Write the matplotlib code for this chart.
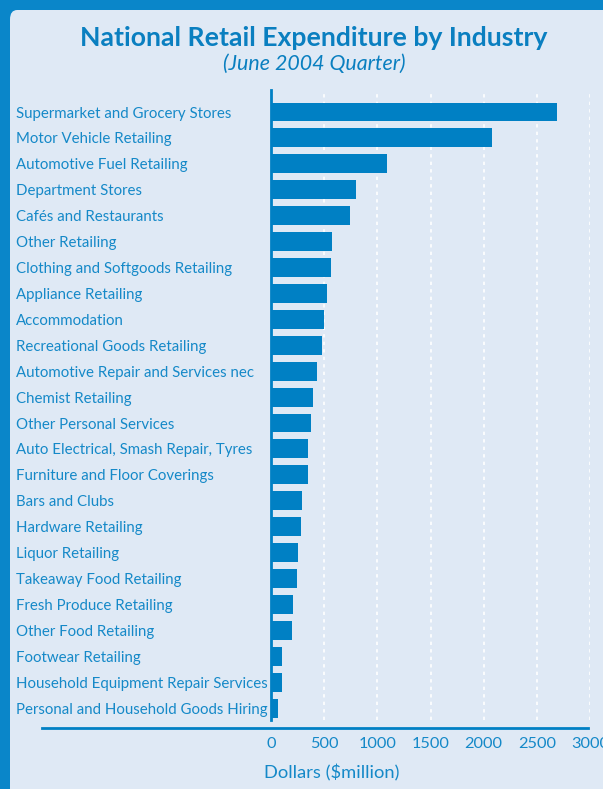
import matplotlib
matplotlib.use("Agg")
import matplotlib.pyplot as plt
from matplotlib.patches import FancyBboxPatch
from matplotlib.lines import Line2D

categories = [
    "Supermarket and Grocery Stores",
    "Motor Vehicle Retailing",
    "Automotive Fuel Retailing",
    "Department Stores",
    "Cafés and Restaurants",
    "Other Retailing",
    "Clothing and Softgoods Retailing",
    "Appliance Retailing",
    "Accommodation",
    "Recreational Goods Retailing",
    "Automotive Repair and Services nec",
    "Chemist Retailing",
    "Other Personal Services",
    "Auto Electrical, Smash Repair, Tyres",
    "Furniture and Floor Coverings",
    "Bars and Clubs",
    "Hardware Retailing",
    "Liquor Retailing",
    "Takeaway Food Retailing",
    "Fresh Produce Retailing",
    "Other Food Retailing",
    "Footwear Retailing",
    "Household Equipment Repair Services",
    "Personal and Household Goods Hiring",
]
values = [2690, 2080, 1090, 800, 745, 575, 565, 527, 500, 480, 433, 395,
          376, 348, 348, 292, 282, 254, 245, 207, 198, 103, 103, 66]
xticks = [0, 500, 1000, 1500, 2000, 2500, 3000]

W, H = 603, 789
BLUE = "#0A86C9"
BAR = "#0080C4"
TXT = "#1589C8"
BG = "#DFE9F5"
FONT = ["Lato", "DejaVu Sans"]
plt.rcParams["font.family"] = FONT

fig = plt.figure(figsize=(W / 100, H / 100), dpi=100)
fig.patch.set_facecolor(BLUE)
panel = FancyBboxPatch((10 / W, -20 / H), (W + 20) / W, (H + 20 - 10) / H,
                       boxstyle="round,pad=0,rounding_size=0.012",
                       transform=fig.transFigure, facecolor=BG, edgecolor="none",
                       zorder=-10)
fig.patches.append(panel)

ax_l, ax_r = 271 / W, 590 / W
ax_t, ax_b = 90, 720
ax = fig.add_axes([ax_l, 1 - ax_b / H, ax_r - ax_l, (ax_b - ax_t) / H])
ax.set_facecolor("none")

y = list(range(len(categories)))
ax.barh(y, values, height=0.73, color=BAR, zorder=3)
ax.set_xlim(0, 3000)
ax.set_ylim(len(categories) - 1 + 0.46, -0.85)

for s in ["top", "right", "bottom"]:
    ax.spines[s].set_visible(False)
ax.spines["left"].set_color(BAR)
ax.spines["left"].set_linewidth(2)
ax.spines["left"].set_zorder(4)

ax.set_xticks(xticks)
ax.set_xticklabels([str(t) for t in xticks])
ax.tick_params(axis="x", length=0, pad=12, labelsize=11.8,
               labelcolor=TXT)
ax.set_yticks(y)
ax.set_yticklabels(categories)
ax.tick_params(axis="y", length=0, pad=(271 - 16) * 0.72, labelsize=10.8,
               labelcolor=TXT)
for lab in ax.get_yticklabels():
    lab.set_horizontalalignment("left")

for t in xticks[1:]:
    ax.axvline(t, color="white", linestyle=(0, (2, 2.5)), linewidth=1.2, zorder=1)

fig.add_artist(Line2D([42 / W, 588 / W], [1 - 728 / H, 1 - 728 / H],
                      transform=fig.transFigure, color=BAR, linewidth=2))

fig.text(314 / W, 1 - 38 / H, "National Retail Expenditure by Industry",
         ha="center", va="center", fontsize=19.2, fontweight="bold", color="#0A7FC0")
fig.text(314 / W, 1 - 64 / H, "(June 2004 Quarter)", ha="center", va="center",
         fontsize=15.4, fontstyle="italic", color="#0A7FC0")
fig.text(332 / W, 1 - 773 / H, "Dollars ($million)", ha="center", va="center",
         fontsize=13.2, color=TXT)

fig.savefig("out.png", dpi=100, facecolor=BLUE)
